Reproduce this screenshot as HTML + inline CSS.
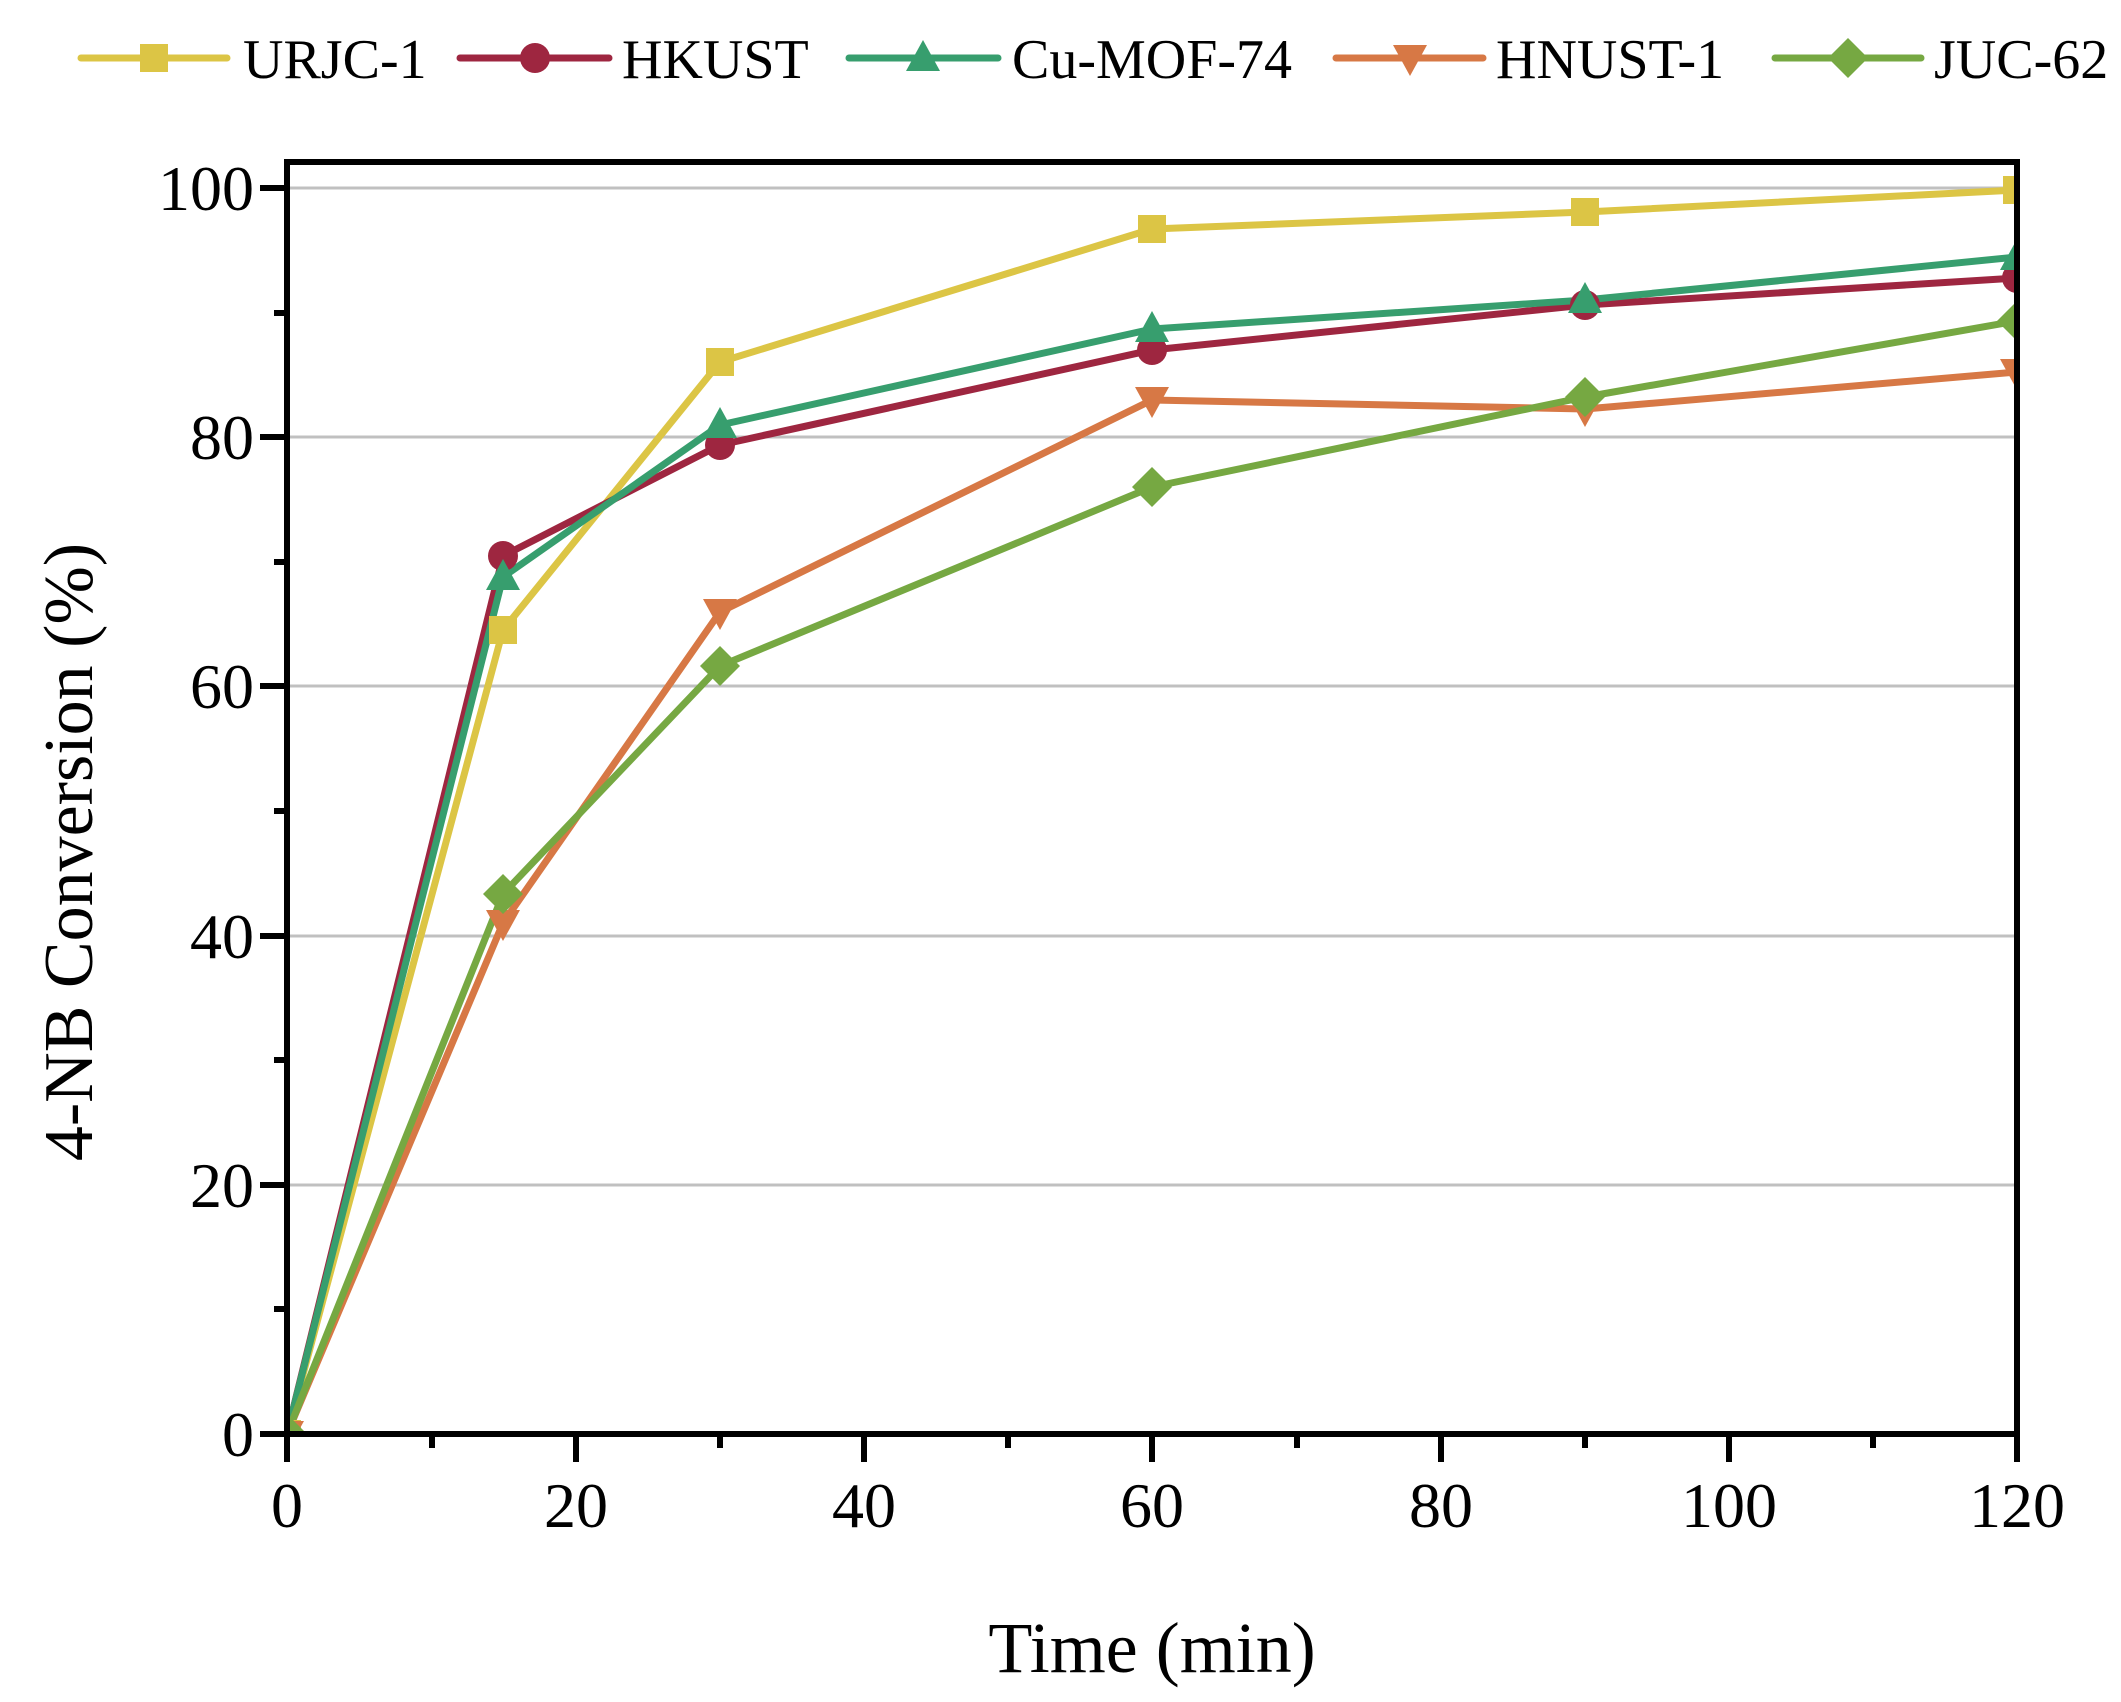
<!DOCTYPE html>
<html><head><meta charset="utf-8"><style>body{margin:0;background:#fff}svg{display:block}</style></head>
<body>
<svg width="2121" height="1702" viewBox="0 0 2121 1702" xmlns="http://www.w3.org/2000/svg" font-family="'Liberation Serif', serif">
<defs>
<clipPath id="c"><rect x="287" y="162" width="1730" height="1272"/></clipPath>
<rect id="sq" x="-14" y="-14" width="28" height="28"/>
<circle id="ci" r="15"/>
<polygon id="tu" points="0,-18 17,13 -17,13"/>
<polygon id="td" points="0,18 17,-13 -17,-13"/>
<polygon id="di" points="0,-20 20,0 0,20 -20,0"/>
</defs>
<g stroke="#c0c0c0" stroke-width="3">
<line x1="287" x2="2017" y1="1185" y2="1185"/><line x1="287" x2="2017" y1="936" y2="936"/>
<line x1="287" x2="2017" y1="686" y2="686"/><line x1="287" x2="2017" y1="437" y2="437"/>
<line x1="287" x2="2017" y1="188" y2="188"/>
</g>
<g clip-path="url(#c)" stroke-width="7" fill="none" stroke-linejoin="round">
<polyline stroke="#dcc545" points="287,1434 503,630 720,362 1152,229 1585,212 2017,190"/>
<polyline stroke="#9e2640" points="287,1434 503,556 720,445 1152,350 1585,305 2017,278"/>
<polyline stroke="#379e6e" points="287,1434 503,577 720,425 1152,329 1585,300 2017,257"/>
<polyline stroke="#d77845" points="287,1434 503,923 720,612 1152,400 1585,409 2017,372"/>
<polyline stroke="#76a842" points="287,1434 503,894 720,666 1152,487 1585,397 2017,321"/>
<g fill="#dcc545" stroke="none"><use href="#sq" x="287" y="1434"/><use href="#sq" x="503" y="630"/><use href="#sq" x="720" y="362"/><use href="#sq" x="1152" y="229"/><use href="#sq" x="1585" y="212"/><use href="#sq" x="2017" y="190"/></g>
<g fill="#9e2640" stroke="none"><use href="#ci" x="287" y="1434"/><use href="#ci" x="503" y="556"/><use href="#ci" x="720" y="445"/><use href="#ci" x="1152" y="350"/><use href="#ci" x="1585" y="305"/><use href="#ci" x="2017" y="278"/></g>
<g fill="#379e6e" stroke="none"><use href="#tu" x="287" y="1434"/><use href="#tu" x="503" y="577"/><use href="#tu" x="720" y="425"/><use href="#tu" x="1152" y="329"/><use href="#tu" x="1585" y="300"/><use href="#tu" x="2017" y="257"/></g>
<g fill="#d77845" stroke="none"><use href="#td" x="287" y="1434"/><use href="#td" x="503" y="923"/><use href="#td" x="720" y="612"/><use href="#td" x="1152" y="400"/><use href="#td" x="1585" y="409"/><use href="#td" x="2017" y="372"/></g>
<g fill="#76a842" stroke="none"><use href="#di" x="287" y="1434"/><use href="#di" x="503" y="894"/><use href="#di" x="720" y="666"/><use href="#di" x="1152" y="487"/><use href="#di" x="1585" y="397"/><use href="#di" x="2017" y="321"/></g>
</g>
<rect x="287" y="162" width="1730" height="1272" fill="none" stroke="#000" stroke-width="6"/>
<g stroke="#000" stroke-width="6">
<line x1="287" x2="287" y1="1434" y2="1462"/><line x1="576" x2="576" y1="1434" y2="1462"/><line x1="864" x2="864" y1="1434" y2="1462"/><line x1="1152" x2="1152" y1="1434" y2="1462"/><line x1="1441" x2="1441" y1="1434" y2="1462"/><line x1="1729" x2="1729" y1="1434" y2="1462"/><line x1="2017" x2="2017" y1="1434" y2="1462"/>
<line x1="432" x2="432" y1="1434" y2="1448"/><line x1="720" x2="720" y1="1434" y2="1448"/><line x1="1008" x2="1008" y1="1434" y2="1448"/><line x1="1297" x2="1297" y1="1434" y2="1448"/><line x1="1585" x2="1585" y1="1434" y2="1448"/><line x1="1873" x2="1873" y1="1434" y2="1448"/>
<line x1="260" x2="287" y1="1434" y2="1434"/><line x1="260" x2="287" y1="1185" y2="1185"/><line x1="260" x2="287" y1="936" y2="936"/><line x1="260" x2="287" y1="686" y2="686"/><line x1="260" x2="287" y1="437" y2="437"/><line x1="260" x2="287" y1="188" y2="188"/>
<line x1="274" x2="287" y1="1309" y2="1309"/><line x1="274" x2="287" y1="1060" y2="1060"/><line x1="274" x2="287" y1="811" y2="811"/><line x1="274" x2="287" y1="562" y2="562"/><line x1="274" x2="287" y1="313" y2="313"/>
</g>
<g font-size="64" fill="#000" text-anchor="middle">
<text x="287" y="1527">0</text><text x="576" y="1527">20</text><text x="864" y="1527">40</text><text x="1152" y="1527">60</text><text x="1441" y="1527">80</text><text x="1729" y="1527">100</text><text x="2017" y="1527">120</text>
</g>
<g font-size="64" fill="#000" text-anchor="end">
<text x="254" y="1456">0</text><text x="254" y="1207">20</text><text x="254" y="958">40</text><text x="254" y="708">60</text><text x="254" y="459">80</text><text x="254" y="210">100</text>
</g>
<text x="1152" y="1672" font-size="72" text-anchor="middle">Time (min)</text>
<text transform="translate(92,852) rotate(-90)" font-size="70" text-anchor="middle">4-NB Conversion (%)</text>
<g stroke-width="7" stroke-linecap="round">
<line x1="81" x2="227" y1="58" y2="58" stroke="#dcc545"/><use href="#sq" x="154" y="58" fill="#dcc545"/>
<line x1="460" x2="609" y1="58" y2="58" stroke="#9e2640"/><use href="#ci" x="535" y="58" fill="#9e2640"/>
<line x1="849" x2="998" y1="58" y2="58" stroke="#379e6e"/><use href="#tu" x="923" y="58" fill="#379e6e"/>
<line x1="1336" x2="1483" y1="58" y2="58" stroke="#d77845"/><use href="#td" x="1410" y="58" fill="#d77845"/>
<line x1="1775" x2="1921" y1="58" y2="58" stroke="#76a842"/><use href="#di" x="1848" y="58" fill="#76a842"/>
</g>
<g font-size="56" fill="#000">
<text x="243" y="78">URJC-1</text><text x="622" y="78">HKUST</text><text x="1012" y="78">Cu-MOF-74</text><text x="1496" y="78">HNUST-1</text><text x="1934" y="78">JUC-62</text>
</g>
</svg>
</body></html>
